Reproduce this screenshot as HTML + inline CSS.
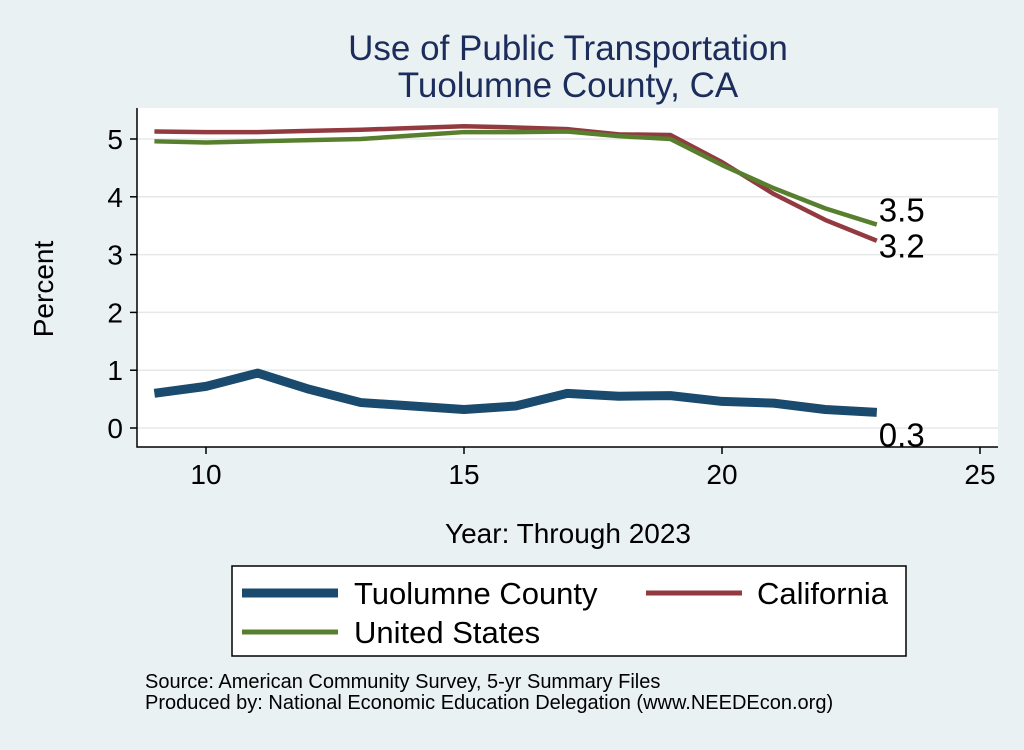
<!DOCTYPE html>
<html><head><meta charset="utf-8"><style>
body{margin:0;background:#eaf1f3;font-family:"Liberation Sans",sans-serif}
svg text{font-family:"Liberation Sans",sans-serif}
</style></head><body>
<svg width="1024" height="745" xmlns="http://www.w3.org/2000/svg">
<rect x="0" y="0" width="1024" height="745" fill="#eaf1f3"/>
<text x="568" y="60" text-anchor="middle" font-size="35" fill="#1c2d5c">Use of Public Transportation</text>
<text x="568" y="97" text-anchor="middle" font-size="35" fill="#1c2d5c">Tuolumne County, CA</text>
<rect x="137" y="108" width="861" height="339" fill="#fff"/>
<g id="grid"></g>
<g id="axes"></g>
<g id="series"></g>
<text x="568" y="543" text-anchor="middle" font-size="28" fill="#000">Year: Through 2023</text>
<text transform="translate(53,289) rotate(-90)" text-anchor="middle" font-size="28" fill="#000">Percent</text>
<g>
<rect x="232" y="566" width="674" height="90" fill="#fff" stroke="#000" stroke-width="1.5"/>
<line x1="242" y1="593" x2="338" y2="593" stroke="#1a4a6e" stroke-width="9"/>
<text x="354" y="604" font-size="31">Tuolumne County</text>
<line x1="646" y1="593" x2="742" y2="593" stroke="#923a3f" stroke-width="5"/>
<text x="757" y="604" font-size="31">California</text>
<line x1="242" y1="632" x2="338" y2="632" stroke="#587f2d" stroke-width="5"/>
<text x="354" y="643" font-size="31">United States</text>
</g>
<text x="145" y="688" font-size="20">Source: American Community Survey, 5-yr Summary Files</text>
<text x="145" y="709" font-size="20">Produced by: National Economic Education Delegation (www.NEEDEcon.org)</text>
</svg>
<script>
const years=[9,10,11,12,13,14,15,16,17,18,19,20,21,22,23];
const tuolumne=[0.6,0.72,0.95,0.67,0.44,0.38,0.32,0.38,0.6,0.55,0.56,0.46,0.43,0.32,0.27];
const california=[5.13,5.12,5.12,5.14,5.16,5.19,5.22,5.2,5.17,5.08,5.07,4.6,4.05,3.6,3.24];
const unitedStates=[4.96,4.94,4.96,4.98,5.0,5.06,5.12,5.12,5.13,5.05,5.0,4.55,4.15,3.8,3.52];
const xTicks=[10,15,20,25];
const yTicks=[0,1,2,3,4,5];
const NS="http://www.w3.org/2000/svg";
const X=v=>206+(v-10)*51.6;
const Y=v=>428-v*57.8;
function mk(t,a,p){const e=document.createElementNS(NS,t);for(const k in a)e.setAttribute(k,a[k]);p.appendChild(e);return e;}
const grid=document.getElementById('grid'),axes=document.getElementById('axes'),ser=document.getElementById('series');
yTicks.forEach(v=>{
 const g=mk('line',{x1:137,x2:998,y1:Y(v),y2:Y(v),stroke:'#e6e9ea','stroke-width':1.5},grid);
 
 
 const t=mk('line',{x1:130,x2:137,y1:Y(v),y2:Y(v),stroke:'#000','stroke-width':1.5},axes);
 
 
 const l=mk('text',{x:123,y:Y(v)+10,'text-anchor':'end','font-size':28},axes);l.textContent=v;
 
 
});
xTicks.forEach(v=>{
 const t=mk('line',{x1:X(v),x2:X(v),y1:447,y2:454,stroke:'#000','stroke-width':1.5},axes);
 
 
 const l=mk('text',{x:X(v),y:484,'text-anchor':'middle','font-size':28},axes);l.textContent=v;
 
 
});
const al=mk('path',{d:'M137 108 V447 H998',fill:'none',stroke:'#000','stroke-width':1.5},axes);


function line(vals,color,w,name){
 const d=vals.map((v,i)=>(i?'L':'M')+X(years[i])+' '+Y(v)).join(' ');
 const p=mk('path',{d:d,fill:'none',stroke:color,'stroke-width':w,'stroke-linejoin':'round'},ser);
 
 
}
line(tuolumne,'#1a4a6e',9,'line-tuolumne');
line(california,'#923a3f',4.5,'line-california');
line(unitedStates,'#587f2d',4.5,'line-us');
function lab(vals,dy,name){
 const n=vals.length-1;
 const t=mk('text',{x:X(years[n])+2,y:Y(vals[n])+dy,'font-size':33},ser);
 t.textContent=vals[n].toFixed(1);
 
 
}
lab(unitedStates,-3,'label-us');
lab(california,17,'label-california');
lab(tuolumne,34,'label-tuolumne');
</script>
</body></html>
